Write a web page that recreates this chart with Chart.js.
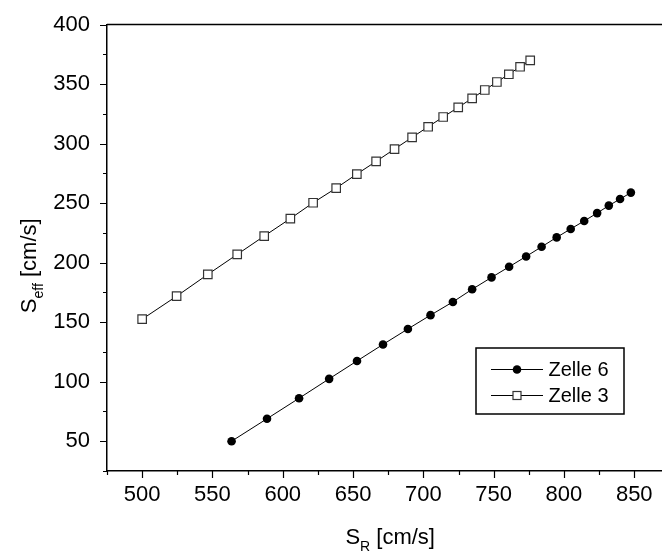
<!DOCTYPE html>
<html>
<head>
<meta charset="utf-8">
<script src="https://cdn.jsdelivr.net/npm/chart.js@4.4.1/dist/chart.umd.min.js"></script>
<style>
    html, body { margin: 0; padding: 0; background: #fff; overflow: hidden; }
    #wrap { width: 662px; height: 551px; overflow: hidden; }
</style>
</head>
<body>
<div id="wrap"><canvas id="srchart" width="680" height="551"></canvas></div>
<script>
// S_R vs S_eff for both cells
const srZelle6 = [563.6, 588.8, 611.6, 633, 652.8, 671.3, 689, 705.1, 721, 734.7, 748.5,
    761, 773.1, 784.1, 794.8, 804.8, 814.4, 823.6, 831.9, 839.9, 847.6];
const seffZelle6 = [50, 68.9, 86.1, 102.4, 117.4, 131.3, 144.3, 155.9, 167, 177.6, 187.6,
    196.5, 205.2, 213.3, 221.2, 228.3, 235, 241.6, 247.9, 253.4, 258.8];
const srZelle3 = [500, 524.5, 546.7, 567.6, 586.8, 605.4, 621.6, 638, 652.7, 666.4, 679.5,
    692, 703.4, 714.1, 724.8, 734.7, 743.7, 752.3, 760.8, 768.8, 776];
const seffZelle3 = [152.5, 171.8, 190.1, 206.9, 222.3, 237, 250.3, 262.6, 274.4, 285, 295.4,
    305.2, 314.1, 322.3, 330.4, 338, 345, 351.7, 358.2, 364.5, 369.9];

const seriesNames = ['Zelle 6', 'Zelle 3'];
const xRange = [475, 875];
const yRange = [25, 400];
const tickStep = 25;
const labelStep = 50;

const FONT = '"Liberation Sans", Arial, sans-serif';

function toPoints(xs, ys) {
    return xs.map(function (x, i) { return { x: x, y: ys[i] }; });
}

// draws "S" + subscript + rest, centred on x=0 at the current origin
function drawSubText(ctx, main, sub, rest) {
    ctx.textBaseline = 'alphabetic';
    ctx.textAlign = 'left';
    ctx.font = '22px ' + FONT;
    const wMain = ctx.measureText(main).width;
    const wRest = ctx.measureText(rest).width;
    ctx.font = '14px ' + FONT;
    const wSub = ctx.measureText(sub).width;
    let x = -(wMain + wSub + wRest) / 2;
    ctx.font = '22px ' + FONT;
    ctx.fillText(main, x, 0);
    x += wMain;
    ctx.font = '14px ' + FONT;
    ctx.fillText(sub, x, 7);
    x += wSub;
    ctx.font = '22px ' + FONT;
    ctx.fillText(rest, x, 0);
}

const framePlugin = {
    id: 'frame',
    afterDraw: function (chart) {
        const ctx = chart.ctx;
        const area = chart.chartArea;
        const xs = chart.scales.x;
        const ys = chart.scales.y;
        ctx.save();
        ctx.strokeStyle = '#000';
        ctx.fillStyle = '#000';
        ctx.lineWidth = 1.5;

        // top frame line
        ctx.beginPath();
        ctx.moveTo(area.left, area.top);
        ctx.lineTo(chart.width, area.top);
        ctx.stroke();

        // outward ticks, longer on labelled values
        ctx.lineWidth = 1.2;
        ctx.beginPath();
        xs.ticks.forEach(function (t) {
            const len = t.value % labelStep === 0 ? 7 : 4;
            const px = Math.round(xs.getPixelForValue(t.value)) + 0.5;
            ctx.moveTo(px, area.bottom);
            ctx.lineTo(px, area.bottom + len);
        });
        ys.ticks.forEach(function (t) {
            const len = t.value % labelStep === 0 ? 7 : 4;
            const py = Math.round(ys.getPixelForValue(t.value)) + 0.5;
            ctx.moveTo(area.left, py);
            ctx.lineTo(area.left - len, py);
        });
        ctx.stroke();

        // axis titles
        ctx.save();
        ctx.translate((area.left + area.right) / 2 + 2, area.bottom + 73);
        drawSubText(ctx, 'S', 'R', ' [cm/s]');
        ctx.restore();

        ctx.save();
        ctx.translate(36, (area.top + area.bottom) / 2 + 18);
        ctx.rotate(-Math.PI / 2);
        drawSubText(ctx, 'S', 'eff', ' [cm/s]');
        ctx.restore();

        // legend box
        const bx = 476, by = 348, bw = 148, bh = 66;
        ctx.lineWidth = 1.5;
        ctx.strokeRect(bx, by, bw, bh);
        ctx.font = '20px ' + FONT;
        ctx.textBaseline = 'middle';
        ctx.textAlign = 'left';
        chart.data.datasets.forEach(function (ds, i) {
            const cy = by + 21.5 + i * 26;
            ctx.lineWidth = 1;
            ctx.strokeStyle = '#000';
            ctx.beginPath();
            ctx.moveTo(bx + 15, cy);
            ctx.lineTo(bx + 67, cy);
            ctx.stroke();
            const mx = bx + 41;
            if (ds.pointStyle === 'circle') {
                ctx.fillStyle = '#000';
                ctx.beginPath();
                ctx.arc(mx, cy, 4.3, 0, Math.PI * 2);
                ctx.fill();
            } else {
                ctx.fillStyle = '#fff';
                ctx.strokeStyle = '#333';
                ctx.lineWidth = 1.2;
                ctx.fillRect(mx - 4, cy - 4, 8, 8);
                ctx.strokeRect(mx - 4, cy - 4, 8, 8);
            }
            ctx.fillStyle = '#000';
            ctx.fillText(ds.label, bx + 72.5, cy + 1);
        });
        ctx.restore();
    }
};

function createSrChart() {
    const ctx = document.getElementById('srchart').getContext('2d');

    new Chart(ctx, {
        type: 'scatter',
        data: {
            datasets: [
                {
                    label: seriesNames[0],
                    data: toPoints(srZelle6, seffZelle6),
                    showLine: true,
                    borderColor: '#000',
                    borderWidth: 1,
                    pointStyle: 'circle',
                    pointRadius: 4.3,
                    pointBackgroundColor: '#000',
                    pointBorderColor: '#000',
                    pointBorderWidth: 0,
                    tension: 0
                },
                {
                    label: seriesNames[1],
                    data: toPoints(srZelle3, seffZelle3),
                    showLine: true,
                    borderColor: '#000',
                    borderWidth: 1,
                    pointStyle: 'rect',
                    pointRadius: 6,
                    pointBackgroundColor: '#fff',
                    pointBorderColor: '#333',
                    pointBorderWidth: 1.2,
                    tension: 0
                }
            ]
        },
        options: {
            responsive: false,
            animation: false,
            devicePixelRatio: 1,
            layout: { padding: { top: 24.5, left: 0, right: 10.6, bottom: 0 } },
            plugins: {
                legend: { display: false },
                tooltip: { enabled: false }
            },
            scales: {
                x: {
                    type: 'linear',
                    min: xRange[0],
                    max: xRange[1],
                    grid: { display: false, drawTicks: false, tickLength: 0 },
                    border: { display: true, color: '#000', width: 1.5 },
                    ticks: {
                        stepSize: tickStep,
                        autoSkip: false,
                        maxRotation: 0,
                        padding: 11,
                        color: '#000',
                        font: { family: FONT, size: 22 },
                        callback: function (v) { return v % labelStep === 0 ? String(v) : ''; }
                    },
                    afterFit: function (scale) {
                        scale.height = 80;
                        scale.paddingLeft = 0;
                        scale.paddingRight = 0;
                    }
                },
                y: {
                    type: 'linear',
                    min: yRange[0],
                    max: yRange[1],
                    grid: { display: false, drawTicks: false, tickLength: 0 },
                    border: { display: true, color: '#000', width: 1.5 },
                    ticks: {
                        stepSize: tickStep,
                        autoSkip: false,
                        padding: 17,
                        color: '#000',
                        font: { family: FONT, size: 22 },
                        callback: function (v) { return v % labelStep === 0 ? String(v) : ''; }
                    },
                    afterFit: function (scale) {
                        scale.width = 107;
                        scale.paddingTop = 0;
                        scale.paddingBottom = 0;
                    }
                }
            }
        },
        plugins: [framePlugin]
    });
}

document.addEventListener('DOMContentLoaded', createSrChart);
</script>
</body>
</html>
